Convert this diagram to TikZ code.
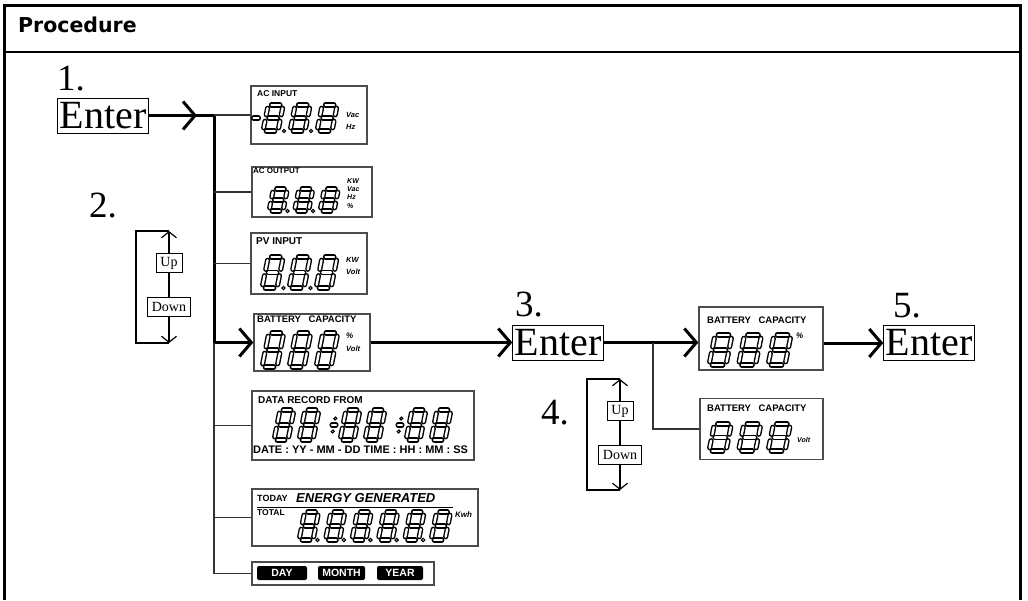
\documentclass[tikz,border=0pt]{standalone}
\usepackage{fontspec}
\setmainfont{Liberation Serif}
\newfontfamily\lcdfont{Liberation Sans}
\newfontfamily\headfont{DejaVu Sans}
\usetikzlibrary{arrows.meta}
\tikzset{
  seg/.style={line width=1.4pt,double=white,double distance=2.3pt,line cap=round},
  lcdbox/.style={draw=black!70,line width=1.3pt,inner sep=0pt},
  lcdtxt/.style={anchor=west,inner sep=0pt,font=\lcdfont\bfseries\fontsize{#1}{#1}\selectfont},
  lcdunit/.style={anchor=west,inner sep=0pt,font=\lcdfont\bfseries\itshape\fontsize{#1}{#1}\selectfont},
  lcdtag/.style={fill=black,text=white,rounded corners=2pt,minimum height=14,inner sep=1pt,font=\lcdfont\bfseries\fontsize{10.5}{11}\selectfont},
  enterbox/.style={draw,line width=0.8pt,font=\fontsize{40}{40}\selectfont,inner xsep=2pt,inner ysep=0pt,minimum height=35},
  numlabel/.style={anchor=base west,inner sep=0pt,font=\fontsize{37}{37}\selectfont},
  keybox/.style={draw,fill=white,line width=0.8pt,font=\fontsize{14}{14}\selectfont,inner xsep=4.5pt,inner ysep=0pt,minimum height=19},
  keyline/.style={line width=1.2pt},
  keyarrow/.style={line width=1.2pt,-{Straight Barb[length=6pt,width=15pt]}},
  bigline/.style={line width=3pt},
  bigarrow/.style={line width=3pt,-{Straight Barb[length=12pt,width=28pt]}},
  wire/.style={line width=1.3pt,draw=black!80},
  pics/lcddigit/.style 2 args={code={
    \begin{scope}[xslant=0.2]
      \draw[seg] (3.2,-#2)--(#1-3.2,-#2);
      \draw[seg] (3.2,-#2/2)--(#1-3.2,-#2/2);
      \draw[seg] (3.2,0)--(#1-3.2,0);
      \draw[seg] (0,-3.2)--(0,-#2/2+3.2);
      \draw[seg] (0,-#2/2-3.2)--(0,-#2+3.2);
      \draw[seg] (#1,-3.2)--(#1,-#2/2+3.2);
      \draw[seg] (#1,-#2/2-3.2)--(#1,-#2+3.2);
    \end{scope}}},
  pics/lcddot/.style={code={\draw[line width=1.1pt,fill=white] (0,0) circle (1.7);}},
  pics/lcddiv/.style={code={
    \begin{scope}[xslant=0.2]
      \draw[seg] (-2,-15)--(2,-15);
      \draw[line width=1.1pt,fill=white] (0,-21.5) circle (1.5);
      \draw[line width=1.1pt,fill=white] (0,-8.5) circle (1.5);
    \end{scope}}}
}
\begin{document}
\begin{tikzpicture}[x=1pt,y=-1pt]
\useasboundingbox (0,0) rectangle (1028,600);
\draw[line width=3pt] (4.5,600) -- (4.5,5) -- (1020.5,5) -- (1020.5,600);
\draw[line width=2.5pt] (4.5,52) -- (1020.5,52);
\node[anchor=base west,inner sep=0pt,font=\headfont\bfseries\fontsize{20.5}{21}\selectfont] (title) at (18,32) {Procedure};

\node[numlabel] (n1) at (57,90) {1.};
\node[enterbox] (enter1) at (103,115.5) {Enter};
\node[numlabel] (n2) at (89,217) {2.};
\node[numlabel] (n3) at (515,316) {3.};
\node[enterbox] (enter3) at (558,342.5) {Enter};
\node[numlabel] (n4) at (541,424) {4.};
\node[numlabel] (n5) at (893,317) {5.};
\node[enterbox] (enter5) at (929,343) {Enter};

\node[lcdbox,minimum width=116,minimum height=58] (acin) at (309,115) {};
\node[lcdbox,minimum width=120,minimum height=50] (acout) at (312,192) {};
\node[lcdbox,minimum width=116,minimum height=61] (pvin) at (309,263.5) {};
\node[lcdbox,minimum width=116,minimum height=57] (batt) at (312,342.5) {};
\node[lcdbox,minimum width=222,minimum height=69] (rec) at (363,425.5) {};
\node[lcdbox,minimum width=226,minimum height=57] (energy) at (365,517.5) {};
\node[lcdbox,minimum width=182,minimum height=23] (dmy) at (343,573.5) {};
\node[lcdbox,minimum width=124,minimum height=63] (battpct) at (761,338.5) {};
\node[lcdbox,minimum width=123,minimum height=61] (battvolt) at (761.5,429) {};

\coordinate (tip1) at (197,115.5);
\coordinate (bustop) at (214,115.5);
\coordinate (busbat) at (214,342.5);
\coordinate (busend) at (214,573.5);
\coordinate (jct) at (653,342.5);
\draw[bigline] (enter1.east) -- (bustop);
\draw[bigarrow] (enter1.east) -- (tip1);
\draw[bigarrow] (bustop) -- (busbat) -- (batt.west);
\draw[wire] (busbat) -- (busend) -- (dmy.west);
\foreach \n in {acin,acout,pvin,rec,energy}{\draw[wire] (bustop |- \n.west) -- (\n.west);}
\draw[bigarrow] (batt.east) -- (enter3.west);
\draw[bigarrow] (enter3.east) -- (enter3.east -| battpct.west);
\draw[wire] (jct) |- (battvolt.west);
\draw[bigarrow] (battpct.east |- enter5.west) -- (enter5.west);

\node[keybox] (up1) at (169,263) {Up};
\node[keybox] (down1) at (169,307) {Down};
\coordinate (looptop1) at (169,231);
\coordinate (loopbot1) at (169,343);
\coordinate (loopl1) at (136,231);
\draw[keyline] (up1) -- (down1);
\draw[keyarrow] (up1) -- (looptop1);
\draw[keyarrow] (down1) -- (loopbot1);
\draw[keyline] (looptop1) -- (loopl1) |- (loopbot1);
\node[keybox] (up2) at (620,411) {Up};
\node[keybox] (down2) at (620,454.5) {Down};
\coordinate (looptop2) at (620,379);
\coordinate (loopbot2) at (620,490);
\coordinate (loopl2) at (587,379);
\draw[keyline] (up2) -- (down2);
\draw[keyarrow] (up2) -- (looptop2);
\draw[keyarrow] (down2) -- (loopbot2);
\draw[keyline] (looptop2) -- (loopl2) |- (loopbot2);

\node[lcdtxt=8.5] (acinlbl) at (257,94) {AC INPUT};
\draw[seg] (253.5,118) -- (258.5,118);
\foreach \x in {263,290,317}{\pic at (\x,131) {lcddigit={15}{26}};}
\foreach \x in {284,311}{\pic at (\x,131) {lcddot};}
\node[lcdunit=7.5] (acinu1) at (346,115) {Vac};
\node[lcdunit=7.5] (acinu2) at (346,127) {Hz};

\node[lcdtxt=8] (acoutlbl) at (253,171) {AC OUTPUT};
\foreach \x in {269,294.5,320}{\pic at (\x,211) {lcddigit={14}{22}};}
\foreach \x in {287.5,313}{\pic at (\x,211) {lcddot};}
\foreach \u/\y in {KW/181,Vac/189,Hz/197,\%/206}{\node[lcdunit=7] at (347,\y) {\u};}

\node[lcdtxt=10] (pvlbl) at (256,241) {PV INPUT};
\foreach \x in {262,289,316}{\pic at (\x,288) {lcddigit={15}{31}};}
\foreach \x in {283.5,310.5}{\pic at (\x,288) {lcddot};}
\node[lcdunit=7.5] (pvu1) at (346,260) {KW};
\node[lcdunit=7.5] (pvu2) at (346,272) {Volt};

\node[lcdtxt=9.5] (battlbl) at (257,319) {BATTERY\hspace{0.8em}CAPACITY};
\foreach \x in {262,289,316}{\pic at (\x,367) {lcddigit={15}{34}};}
\node[lcdunit=8] (battu1) at (346,336) {\%};
\node[lcdunit=7.5] (battu2) at (346,349) {Volt};

\node[lcdtxt=10] (reclbl) at (258,400) {DATA RECORD FROM};
\foreach \x in {274,299,340,365,406,431}{\pic at (\x,440) {lcddigit={14}{30}};}
\foreach \x in {331,397}{\pic at (\x,440) {lcddiv};}
\node[lcdtxt=11] (recfmt) at (253,450) {DATE : YY - MM - DD TIME : HH : MM : SS};

\node[lcdtxt=9] (today) at (257,498.5) {TODAY};
\node[lcdunit=13] (enlbl) at (296,498.5) {ENERGY GENERATED};
\draw[line width=1pt] (257,507) -- (453,507);
\node[lcdtxt=8.5] (total) at (257,513) {TOTAL};
\foreach \i in {0,...,5}{\pic at ({299+26.4*\i},540) {lcddigit={14}{28}};}
\foreach \i in {0,...,4}{\pic at ({317.5+26.4*\i},540) {lcddot};}
\node[lcdunit=8] (kwh) at (455,515) {Kwh};

\node[lcdtag,minimum width=50] (day) at (282,573) {DAY};
\node[lcdtag,minimum width=47] (month) at (341.5,573) {MONTH};
\node[lcdtag,minimum width=46] (year) at (400,573) {YEAR};

\node[lcdtxt=9.5] (pctlbl) at (707,320) {BATTERY\hspace{0.8em}CAPACITY};
\foreach \x in {709,738.5,768}{\pic at (\x,365) {lcddigit={17}{30}};}
\node[lcdunit=8] (pctu) at (796,336) {\%};
\node[lcdtxt=9.5] (voltlbl) at (707,408) {BATTERY\hspace{0.8em}CAPACITY};
\foreach \x in {709,738.5,768}{\pic at (\x,451) {lcddigit={17}{27}};}
\node[lcdunit=7] (voltu) at (797,440) {Volt};
\end{tikzpicture}
\end{document}
